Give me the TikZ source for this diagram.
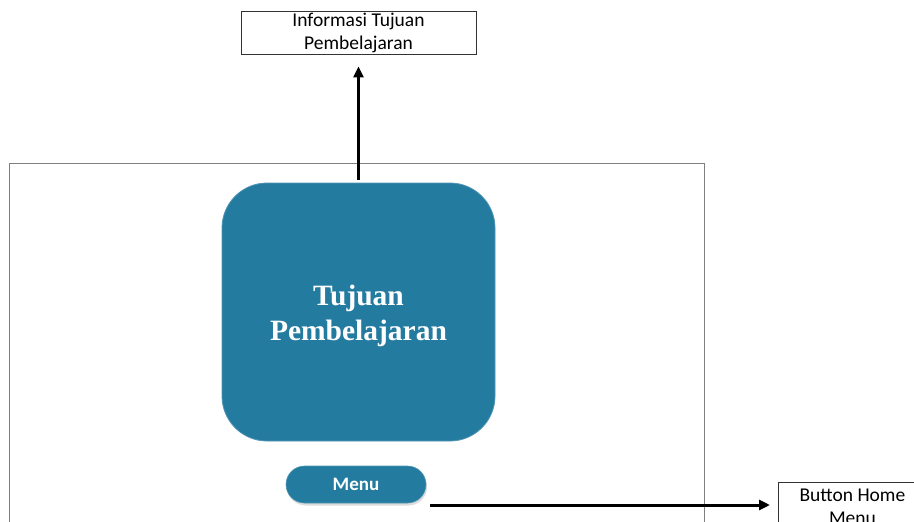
\documentclass[tikz,border=0pt]{standalone}
\usepackage{fontspec}
\setmainfont{Carlito}
\newfontfamily\heavyserif{Liberation Serif}
\usetikzlibrary{arrows.meta,calc}
\definecolor{teal1}{HTML}{247BA0}
\definecolor{framegray}{HTML}{7F7F7F}
\tikzset{
  infobox/.style={draw=black!80,line width=0.9pt,fill=white,align=center,inner sep=0pt,
    font=\fontsize{19.5}{23}\selectfont},
  bigtile/.style={fill=teal1,draw=teal1!80!white,line width=0.8pt,rounded corners=45pt,inner sep=0pt},
  tiletext/.style={text=white,align=center,inner sep=0pt,font=\heavyserif\bfseries\fontsize{29.5}{35}\selectfont},
  pill/.style={fill=teal1,draw=teal1!80!white,line width=0.6pt,rounded corners=18.5pt,
    text=white,inner sep=0pt,font=\bfseries\fontsize{19}{20}\selectfont},
  flow/.style={line width=3pt,-{Triangle[length=11pt,width=10pt]}},
}
\begin{document}
\begin{tikzpicture}[x=1pt,y=-1pt]
\useasboundingbox (0,0) rectangle (914,522);
\clip (0,0) rectangle (914,522);
% outer frame
\draw[framegray,line width=0.9pt] (9,163) rectangle (704,560);
% nodes
\node[infobox,minimum width=235pt,minimum height=43pt] (info) at (358.5,32.5)
  {Informasi Tujuan\\Pembelajaran};
\node[bigtile,minimum width=273pt,minimum height=258pt] (tile) at (358.5,312) {};
\node[tiletext] (tiletxt) at ([yshift=-4pt]tile.center) {Tujuan\\Pembelajaran};
\fill[black!30,opacity=0.45,rounded corners=18.5pt] (287,468) rectangle (427,505.5);
\node[pill,minimum width=140pt,minimum height=37pt] (menu) at (356,484.5) {Menu};
\node[infobox,minimum width=148pt,minimum height=48pt,anchor=north west] (home) at (778,482)
  {Button Home\\Menu};
% connectors
\draw[flow,shorten <=3pt,shorten >=12pt] (tile.north) -- (info.south);
\coordinate (mstart) at (430,505);
\draw[flow,shorten >=8pt] (mstart) -- (mstart -| home.west);
\end{tikzpicture}
\end{document}
